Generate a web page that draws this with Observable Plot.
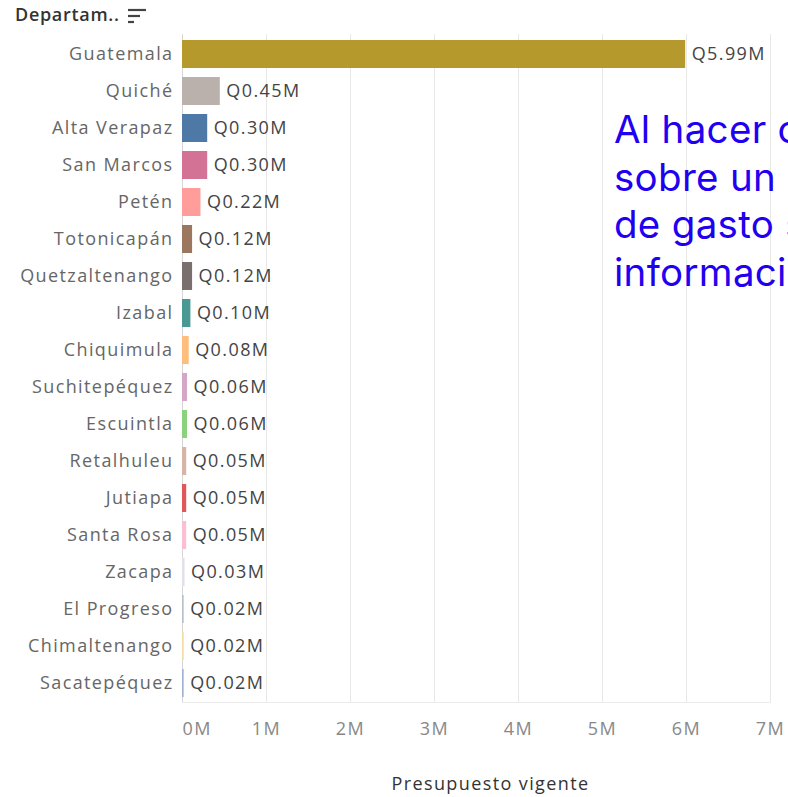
<!DOCTYPE html>
<html>
<head>
<meta charset="utf-8">
<script src="https://cdn.jsdelivr.net/npm/d3@7"></script>
<script src="https://cdn.jsdelivr.net/npm/@observablehq/plot@0.6"></script>
<style>
  html, body { margin: 0; padding: 0; background: #fff; width: 788px; height: 797px; overflow: hidden; }
  #wrap { position: relative; width: 788px; height: 797px; }
  #header { height: 24px; position: relative; font-family: "Open Sans", sans-serif; font-size: 18px; font-weight: 600; color: #333; }
  #header span.t { position: absolute; left: 15px; top: 2px; letter-spacing: 0.7px; }
  #header svg { position: absolute; left: 128px; top: 8px; }
  #note { position: absolute; left: 614px; top: 106px; width: 400px; font-family: Inter, "Liberation Sans", sans-serif; font-size: 38.5px; line-height: 47.5px; letter-spacing: 0.3px; color: #1f00f0; white-space: nowrap; }
  #clip { position: absolute; left: 0; top: 0; width: 788px; height: 797px; overflow: hidden; pointer-events: none; }
</style>
</head>
<body>
<div id="wrap">
  <div id="header"><span class="t">Departam..</span>
    <svg width="20" height="16"><g stroke="#444" stroke-width="2.2"><line x1="0" y1="2" x2="18" y2="2"/><line x1="0" y1="8" x2="12" y2="8"/><line x1="0" y1="14" x2="6" y2="14"/></g></svg>
  </div>
  <div id="chart"></div>
  <div id="clip"><div id="note">Al hacer clic<br>sobre un<br>de gasto se<br>información</div></div>
</div>
<script>
const departamentos = ["Guatemala","Quiché","Alta Verapaz","San Marcos","Petén","Totonicapán","Quetzaltenango","Izabal","Chiquimula","Suchitepéquez","Escuintla","Retalhuleu","Jutiapa","Santa Rosa","Zacapa","El Progreso","Chimaltenango","Sacatepéquez"];
const presupuesto = [5.99,0.45,0.30,0.30,0.22,0.12,0.12,0.10,0.08,0.06,0.06,0.05,0.05,0.05,0.03,0.02,0.02,0.02];
const colores = ["#B6992D","#BAB0AC","#4E79A7","#D37295","#FF9D9A","#9D7660","#79706E","#499894","#FFBE7D","#D4A6C8","#8CD17D","#D7B5A6","#E15759","#FABFD2","#E4E0EA","#B8C0CC","#F3DBA6","#A0B4D2"];
const ticksX = [0,1,2,3,4,5,6,7];
const tickLabels = ["0M","1M","2M","3M","4M","5M","6M","7M"];
const tituloX = "Presupuesto vigente";

const data = departamentos.map((d, i) => ({dep: d, valor: presupuesto[i], color: colores[i], etiqueta: "Q" + presupuesto[i].toFixed(2) + "M"}));

const chart = Plot.plot({
  width: 788,
  height: 773,
  marginLeft: 182,
  marginRight: 18,
  marginTop: 10,
  marginBottom: 95,
  style: {fontFamily: "'Open Sans', sans-serif", fontSize: "18px", letterSpacing: "1.4px", background: "#fff"},
  x: {domain: [0, 7], label: null},
  y: {domain: departamentos, paddingInner: 0.25, paddingOuter: 0.1, label: null},
  marks: [
    Plot.gridX(ticksX.slice(1), {stroke: "#e8e8e8", strokeOpacity: 1}),
    Plot.ruleX([0], {stroke: "#d6d6d6"}),
    Plot.frame({anchor: "bottom", stroke: "#ececec"}),
    Plot.barX(data, {x: "valor", y: "dep", fill: "color"}),
    Plot.text(data, {x: "valor", y: "dep", text: "etiqueta", dx: 6, textAnchor: "start", fill: "#444", fontSize: 18}),
    Plot.axisY({tickSize: 0, tickPadding: 9, fill: "#666", fontSize: 18, label: null}),
    Plot.axisX(ticksX.slice(1), {tickSize: 0, tickPadding: 20, fill: "#888", fontSize: 18, label: null, tickFormat: d => tickLabels[d]}),
    Plot.axisX([0], {tickSize: 0, tickPadding: 20, fill: "#888", fontSize: 18, label: null, textAnchor: "start", tickFormat: d => tickLabels[d]}),
    Plot.text([tituloX], {frameAnchor: "bottom", dy: 87, dx: 14, fill: "#333", fontSize: 18, letterSpacing: "1.2px"})
  ]
});
document.getElementById("chart").appendChild(chart);
</script>
</body>
</html>
